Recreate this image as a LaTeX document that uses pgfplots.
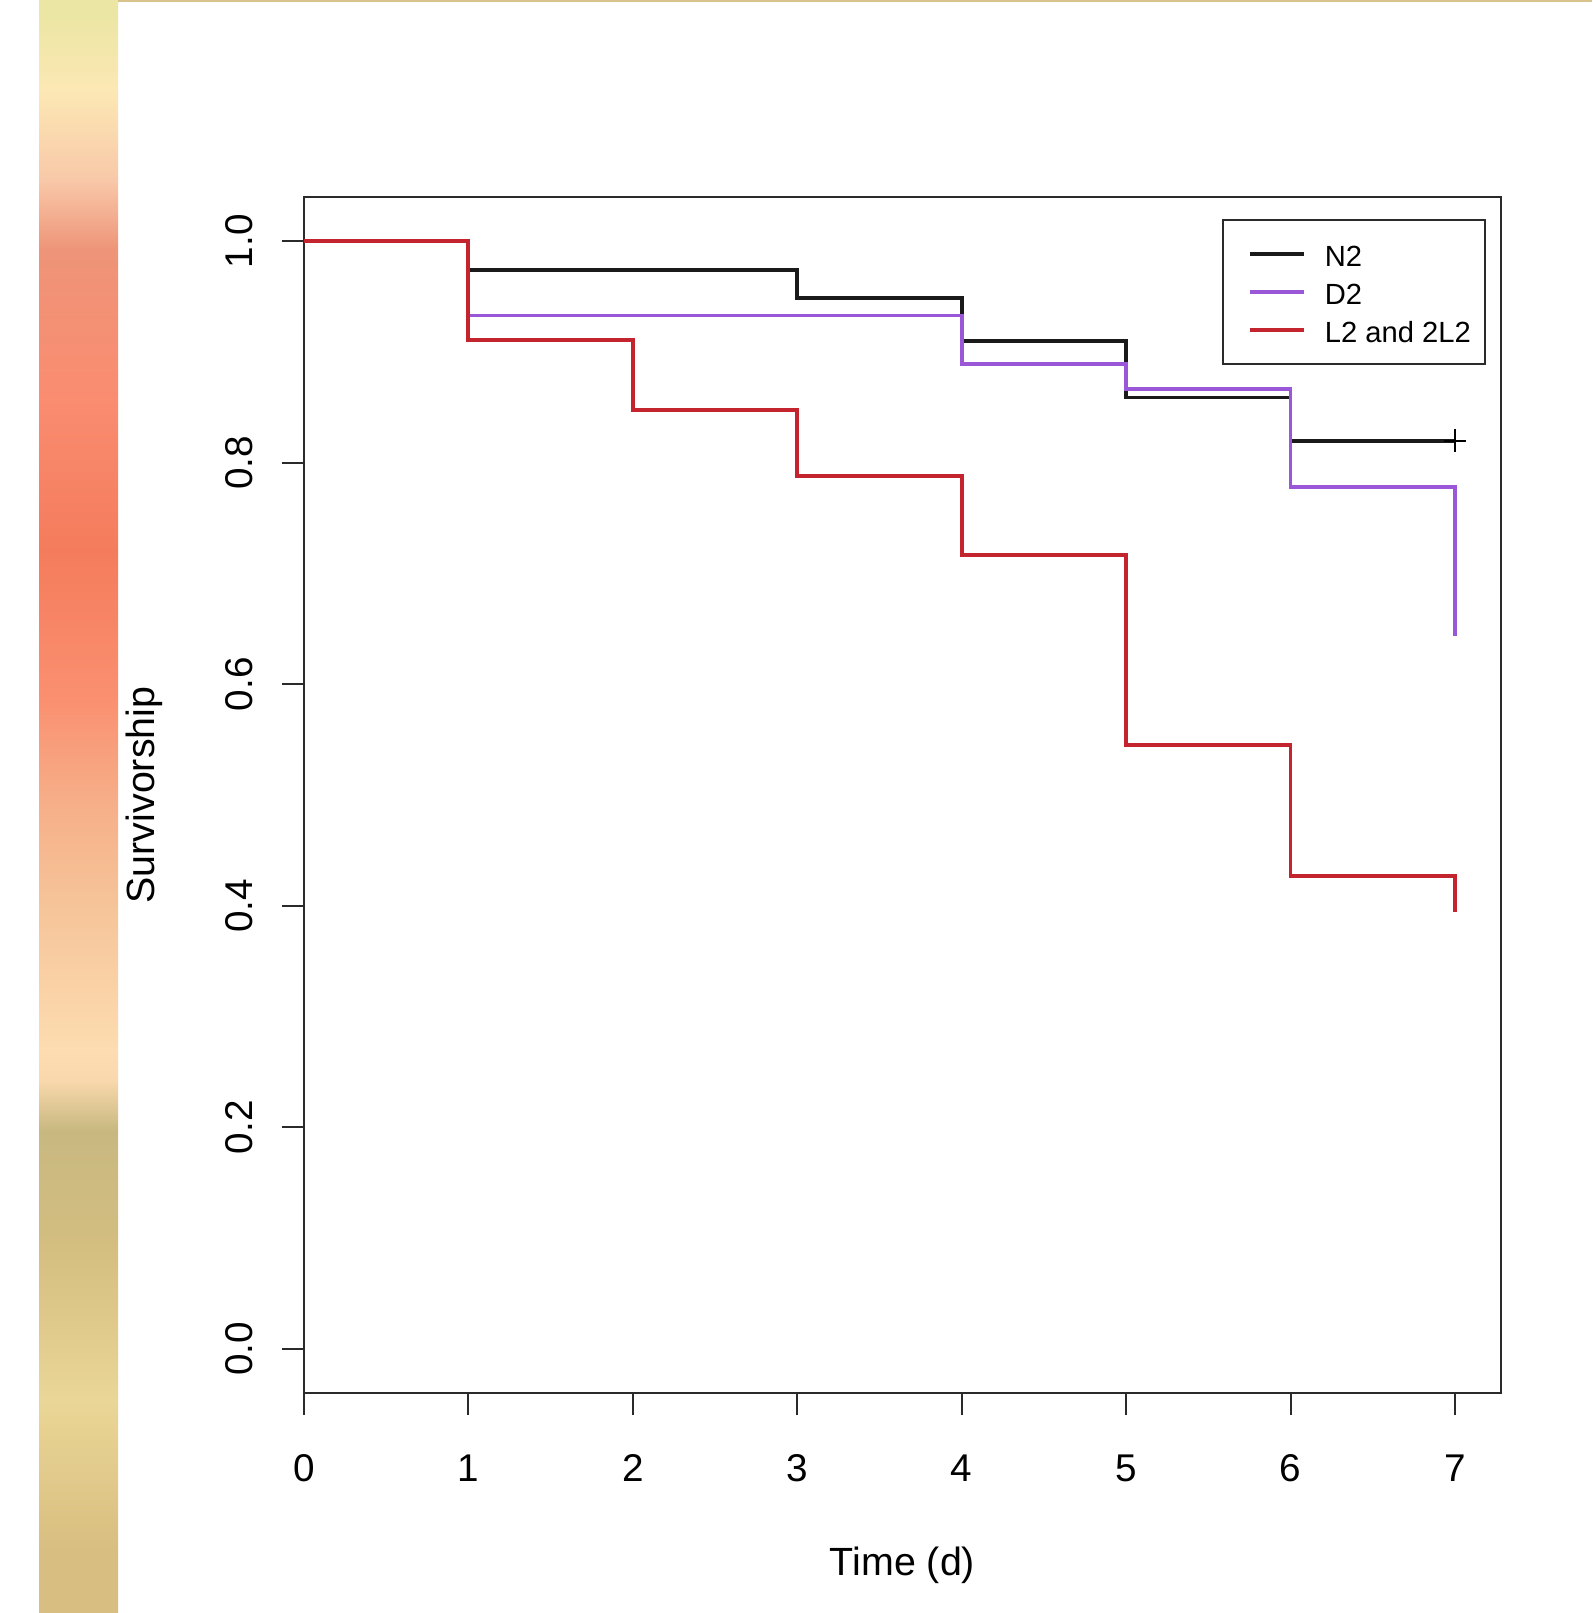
\documentclass[border=0pt]{standalone}
\usepackage{fontspec}
\setmainfont{Liberation Sans}
\usepackage{pgfplots}
\pgfplotsset{compat=1.18}

\definecolor{survblack}{HTML}{1A1A1A}
\definecolor{survpurple}{HTML}{9A58D8}
\definecolor{survred}{HTML}{C4242E}
\definecolor{framegray}{HTML}{2A2A2A}
\definecolor{topgold}{HTML}{D8C48A}

% slide strip on the left
\definecolor{s00}{HTML}{D8BE80}
\definecolor{s01}{HTML}{D8BE80}
\definecolor{s02}{HTML}{EAD696}
\definecolor{s03}{HTML}{D4BE80}
\definecolor{s04}{HTML}{C8B880}
\definecolor{s05}{HTML}{F8D8AC}
\definecolor{s06}{HTML}{FCDCB0}
\definecolor{s07}{HTML}{F6C398}
\definecolor{s08}{HTML}{F6AE88}
\definecolor{s09}{HTML}{FA9070}
\definecolor{s10}{HTML}{F47C5C}
\definecolor{s11}{HTML}{FA8C70}
\definecolor{s12}{HTML}{EE9478}
\definecolor{s13}{HTML}{F8C8A8}
\definecolor{s14}{HTML}{FCE8B4}
\definecolor{s15}{HTML}{ECE6A4}
% tikz maps the middle 25bp..75bp onto the path
\pgfdeclareverticalshading{strip}{100bp}{%
  color(0bp)=(s00); color(25bp)=(s00); color(26.95bp)=(s01); color(31.6bp)=(s02);
  color(36.25bp)=(s03); color(39.95bp)=(s04); color(41.5bp)=(s05); color(42.45bp)=(s06);
  color(47.1bp)=(s07); color(50.2bp)=(s08); color(53.3bp)=(s09); color(57.95bp)=(s10);
  color(62.6bp)=(s11); color(67.25bp)=(s12); color(69.4bp)=(s13); color(72.2bp)=(s14);
  color(74.4bp)=(s15); color(100bp)=(s15)}

\begin{document}
\begin{tikzpicture}
\path[use as bounding box] (0,0) rectangle (15.92,16.13);
\fill[white] (0,0) rectangle (15.92,16.13);
\shade[shading=strip] (0.39,0) rectangle (1.18,16.13);
\fill[topgold] (1.18,16.11) rectangle (15.92,16.13);

\begin{axis}[
  at={(3.04cm,2.20cm)}, anchor=south west,
  scale only axis, width=11.97cm, height=11.96cm,
  xmin=0, xmax=7.28, ymin=-0.04, ymax=1.04,
  axis line style={framegray, line width=0.6pt},
  xtick={0,1,2,3,4,5,6,7}, ytick={0,0.2,0.4,0.6,0.8,1},
  xtick pos=bottom, ytick pos=left,
  tick align=outside, major tick length=0.22cm,
  tick style={framegray, line width=0.6pt},
  tick label style={font=\fontsize{11}{13}\selectfont},
  /pgf/number format/assume math mode=true,
  x tick label style={inner ysep=0.39cm},
  y tick label style={rotate=90, anchor=south, inner ysep=0.285cm,
    /pgf/number format/.cd, fixed, fixed zerofill, precision=1},
  xlabel={Time (d)}, ylabel={Survivorship},
  label style={font=\fontsize{11.2}{14}\selectfont},
  xlabel style={at={(axis description cs:0.5,-0.144)}, anchor=center},
  ylabel style={at={(axis description cs:-0.1337,0.5)}, anchor=center},
  legend style={at={(axis description cs:0.7669,0.9816)}, anchor=north west,
    draw=framegray, line width=0.6pt, inner xsep=0.14cm, inner ysep=0.21cm,
    row sep=0.13cm, column sep=0.19cm, font=\fontsize{8.3}{10}\selectfont,
    nodes={inner sep=0pt, text height=0.72em, text depth=0pt}},
  legend cell align=left,
  legend image code/.code={\path (0cm,0cm); \draw[#1] (0.11cm,0cm) -- (0.65cm,0cm);},
]
% Kaplan-Meier steps
\addplot[const plot, survblack, line width=1.1pt] coordinates {
  (0,1) (1,0.974) (3,0.949) (4,0.910) (5,0.859) (6,0.820) (7,0.820)};
\addlegendentry{N2}
\addplot[const plot, survpurple, line width=1.1pt] coordinates {
  (0,1) (1,0.933) (4,0.889) (5,0.867) (6,0.778) (7,0.644)};
\addlegendentry{D2}
\addplot[const plot, survred, line width=1.1pt] coordinates {
  (0,1) (1,0.911) (2,0.848) (3,0.788) (4,0.717) (5,0.545) (6,0.427) (7,0.394)};
\addlegendentry{L2 and 2L2}
% censored
\addplot[only marks, mark=+, mark size=3.2pt, black, mark options={line width=0.5pt}, forget plot]
  coordinates {(7,0.820)};
\end{axis}
\end{tikzpicture}
\end{document}
